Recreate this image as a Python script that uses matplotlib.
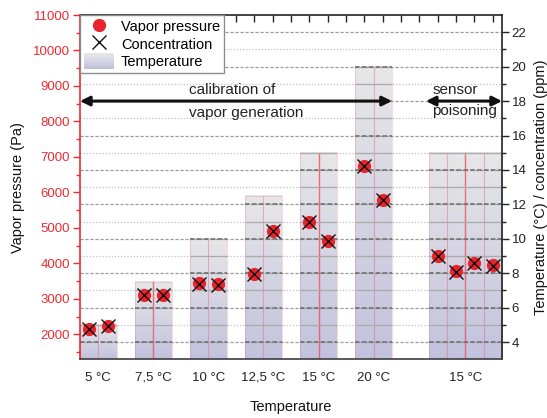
import numpy as np
import matplotlib
matplotlib.use("Agg")
import matplotlib.pyplot as plt
from matplotlib.lines import Line2D
from matplotlib.patches import Rectangle, Patch
from matplotlib.legend_handler import HandlerBase

plt.rcParams['font.family'] = ['Liberation Sans', 'DejaVu Sans']

# ---- data -------------------------------------------------------------
group_labels = ["5 °C", "7,5 °C", "10 °C", "12,5 °C", "15 °C", "20 °C", "15 °C"]
group_temps = [5, 7.5, 10, 12.5, 15, 20, 15]            # °C (right axis)
vapor_pressure = [                                       # Pa (left axis)
    [2160, 2245],
    [3118, 3118],
    [3447, 3419],
    [3709, 4919],
    [5181, 4638],
    [6741, 5792],
    [4216, 3774, 4027, 3943],
]
concentration = [                                        # ppm (right axis)
    [4.74, 4.91],
    [6.72, 6.72],
    [7.40, 7.34],
    [7.94, 10.44],
    [10.98, 9.86],
    [14.22, 12.24],
    [8.98, 8.07, 8.60, 8.42],
]
gap_before = [0, 1, 1, 1, 1, 1, 2]   # empty slots before each group

RED = '#ee2a33'
GRAD_TOP = np.array([231, 231, 233]) / 255
GRAD_BOT = np.array([194, 194, 222]) / 255

# slot positions of every measurement
slots, centers, spans = [], [], []
pos = 0
for g, vals in enumerate(vapor_pressure):
    pos += gap_before[g]
    s = list(range(pos, pos + len(vals)))
    slots.append(s)
    centers.append((s[0] + s[-1]) / 2)
    spans.append((s[0] - 0.5, s[-1] + 0.5))
    pos += len(vals)

fig = plt.figure(figsize=(5.47, 4.18), dpi=100)
ax = fig.add_axes([80 / 547, 1 - 359.3 / 418, (502 - 80) / 547, (359.3 - 15) / 418])
ax2 = ax.twinx()
ax.set_zorder(ax2.get_zorder() + 1)
ax.patch.set_visible(False)

ax.set_xlim(-0.5, 22.5)
ax.set_ylim(1300, 11000)
ax2.set_ylim(3, 23)

# temperature columns with vertical gradient
grad = np.linspace(0, 1, 256)[:, None]
for g, temp in enumerate(group_temps):
    x0, x1 = spans[g]
    img = GRAD_TOP[None, None, :] * (1 - grad[..., None]) + GRAD_BOT[None, None, :] * grad[..., None]
    ax2.imshow(img, extent=(x0, x1, 3, temp), origin='upper', aspect='auto',
               interpolation='bilinear', zorder=0.5)
    ax2.bar(slots[g], [temp] * len(slots[g]), width=1.0, bottom=0, fill=False,
            edgecolor=(0.93, 0.35, 0.38, 0.22), linewidth=0.8, zorder=0.8)
# stronger separators at some group centres
for g in (1, 4, 6):
    ax2.plot([centers[g], centers[g]], [3, group_temps[g]], color=(0.93, 0.35, 0.38, 0.75),
             lw=1.0, zorder=0.9)
ax2.set_xlim(-0.5, 22.5)

# grid on the right scale: lighter in the open, darker across the columns
major_levels = list(range(4, 23, 2))
minor_levels = list(range(5, 23, 2))
for v in major_levels:
    ax2.axhline(v, color='#9a9a9a', lw=0.9, ls=(0, (2.5, 1.5)), zorder=1)
for v in minor_levels:
    ax2.axhline(v, color='#c2c2c2', lw=0.9, ls=(0, (1.0, 1.5)), zorder=1)
for g, temp in enumerate(group_temps):
    x0, x1 = spans[g]
    for v in major_levels:
        if v <= temp:
            ax2.hlines(v, x0, x1, color='#6a6a6a', lw=1.1, ls=(0, (3.0, 1.5)), zorder=1.1)
    for v in minor_levels:
        if v <= temp:
            ax2.hlines(v, x0, x1, color='#ababab', lw=0.9, ls='-', zorder=1.1)

# measurements
all_slots = [s for grp in slots for s in grp]
vp = [v for grp in vapor_pressure for v in grp]
cc = [v for grp in concentration for v in grp]
ax.plot(all_slots, vp, ls='none', marker='o', ms=8.5, color='#e8232c', mec='#e8232c', zorder=3)
ax.plot(all_slots, cc, ls='none', marker='x', ms=10, mew=1.0, color='#111111', zorder=4,
        transform=ax2.transData)

# axes styling
ax.spines['left'].set_color(RED)
ax.spines['left'].set_linewidth(1.2)
ax.spines['bottom'].set_color('#3c3c3c')
ax.spines['bottom'].set_linewidth(1.2)
ax.spines['top'].set_visible(False)
ax.spines['right'].set_visible(False)
for sp in ('left', 'bottom', 'top'):
    ax2.spines[sp].set_visible(False)
ax2.spines['right'].set_color('#222222')
ax2.spines['right'].set_linewidth(1.2)

ax.set_yticks(range(2000, 11001, 1000))
ax.set_yticks(range(1500, 11001, 1000), minor=True)
ax.tick_params(axis='y', which='major', colors=RED, labelcolor=RED, direction='out',
               length=5, width=1, labelsize=9.5, pad=2)
ax.tick_params(axis='y', which='minor', colors=RED, direction='out', length=3, width=1)

ax2.set_yticks(major_levels)
ax2.set_yticks(minor_levels, minor=True)
ax2.tick_params(axis='y', which='major', direction='out', length=5, width=1,
                labelsize=9.5, pad=2, colors='#222222')
ax2.tick_params(axis='y', which='minor', direction='out', length=3, width=1, colors='#222222')

ax.set_xticks(centers)
ax.set_xticklabels(group_labels)
ax.tick_params(axis='x', which='both', length=0, labelsize=9.5, pad=9, labelcolor='#222222')

top = ax2.secondary_xaxis('top')
top.set_xticks(range(0, 23))
top.set_xticklabels([])
top.tick_params(direction='in', length=5, width=1, colors='#222222')
top.spines['top'].set_color('#222222')
top.spines['top'].set_linewidth(1.2)

ax.set_ylabel("Vapor pressure (Pa)", fontsize=10.5, color='#111111', labelpad=6)
ax.set_xlabel("Temperature", fontsize=10.5, color='#111111', labelpad=12)
ax2.set_ylabel("Temperature (°C) / concentration (ppm)", fontsize=10.5, color='#111111', labelpad=5)

# measurement phases
arrow_kw = dict(arrowstyle='<|-|>', color='#111111', lw=2.2, mutation_scale=14,
                shrinkA=0, shrinkB=0)
ax.annotate('', xy=(spans[5][1], 18), xytext=(-0.5, 18),
            xycoords=ax2.transData, textcoords=ax2.transData, arrowprops=arrow_kw, zorder=5)
ax.annotate('', xy=(22.5, 18), xytext=(18.35, 18),
            xycoords=ax2.transData, textcoords=ax2.transData, arrowprops=arrow_kw, zorder=5)
ax.text(5.42, 18.67, "calibration of", transform=ax2.transData, fontsize=11,
        ha='left', va='center', color='#222222')
ax.text(5.42, 17.3, "vapor generation", transform=ax2.transData, fontsize=11,
        ha='left', va='center', color='#222222')
ax.text(18.7, 18.64, "sensor", transform=ax2.transData, fontsize=11,
        ha='left', va='center', color='#222222')
ax.text(18.7, 17.4, "poisoning", transform=ax2.transData, fontsize=11,
        ha='left', va='center', color='#222222')


class GradientHandler(HandlerBase):
    def create_artists(self, legend, orig_handle, xdescent, ydescent, width, height,
                       fontsize, trans):
        n = 16
        arts = []
        for i in range(n):
            f = i / (n - 1)
            c = GRAD_TOP * (1 - f) + GRAD_BOT * f
            r = Rectangle((-xdescent, -ydescent + height * (1 - (i + 1) / n)), width,
                          height / n + 0.3, facecolor=c, edgecolor='none', transform=trans)
            arts.append(r)
        return arts


h_vp = Line2D([], [], ls='none', marker='o', ms=8.5, color='#e8232c')
h_cc = Line2D([], [], ls='none', marker='x', ms=10, mew=1.0, color='#111111')
h_t = Patch(facecolor='#d8d8e6')
leg = ax.legend([h_vp, h_cc, h_t], ["Vapor pressure", "Concentration", "Temperature"],
                handler_map={Patch: GradientHandler()},
                loc='upper left', bbox_to_anchor=(0, 1), borderaxespad=0,
                fontsize=10.5, frameon=True, fancybox=False, framealpha=1,
                edgecolor='#8c8c8c', borderpad=0.25, labelspacing=0.15,
                handlelength=2.1, handleheight=1.2, handletextpad=0.45)
leg.get_frame().set_linewidth(1.0)
leg.set_zorder(10)

fig.savefig("out.png", dpi=100)
